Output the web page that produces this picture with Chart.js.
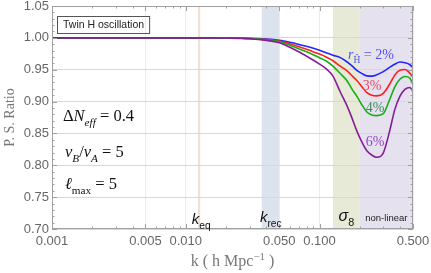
<!DOCTYPE html>
<html>
<head>
<meta charset="utf-8">
<script src="https://cdn.jsdelivr.net/npm/chart.js@4.4.1/dist/chart.umd.min.js"></script>
<style>
  html, body { margin: 0; padding: 0; background: #fff; }
  #wrap { width: 431px; height: 273px; }
</style>
</head>
<body>
<div id="wrap"><canvas id="psChart"></canvas></div>
<script>
// k in h/Mpc, ratio of power spectra for each r_H
const kValues = [0.001, 0.002, 0.005, 0.01, 0.015, 0.02, 0.03, 0.04, 0.05, 0.06, 0.071, 0.085, 0.1, 0.113, 0.126,
  0.143, 0.16, 0.175, 0.19, 0.208, 0.226, 0.246, 0.268, 0.3, 0.336, 0.365, 0.399, 0.435, 0.474, 0.5];

const ratio2 = [1, 1, 1, 1, 1, 0.9998, 0.9992, 0.998, 0.9961, 0.993, 0.9894, 0.9852, 0.9806, 0.9764, 0.9727,
  0.969, 0.9625, 0.956, 0.949, 0.9438, 0.9403, 0.940, 0.942, 0.947, 0.954, 0.9586, 0.9622, 0.961, 0.9578, 0.953];
const ratio3 = [1, 1, 1, 1, 1, 0.9998, 0.999, 0.9975, 0.9952, 0.9908, 0.9858, 0.980, 0.9745, 0.9695, 0.964,
  0.9555, 0.9484, 0.9406, 0.933, 0.923, 0.914, 0.910, 0.909, 0.913, 0.928, 0.9414, 0.9492, 0.9503, 0.9445, 0.938];
const ratio4 = [1, 1, 1, 1, 1, 0.9998, 0.9989, 0.997, 0.9942, 0.9884, 0.9823, 0.9758, 0.9688, 0.9633, 0.9555,
  0.944, 0.933, 0.9195, 0.9086, 0.8945, 0.8836, 0.879, 0.878, 0.881, 0.904, 0.9227, 0.935, 0.9394, 0.9367, 0.927];
const ratio6 = [1, 1, 1, 1, 1, 0.9997, 0.9986, 0.996, 0.9922, 0.9852, 0.9773, 0.968, 0.9589, 0.9508, 0.940,
  0.915, 0.894, 0.874, 0.854, 0.836, 0.8227, 0.816, 0.8125, 0.8195, 0.8555, 0.887, 0.908, 0.919, 0.922, 0.9156];

const seriesNames = ["2%", "3%", "4%", "6%"];

// shaded scales: k_eq (line), k_rec, sigma_8, non-linear
const bandLow = [0.0126, 0.037, 0.126, 0.20];
const bandHigh = [0.0126, 0.0505, 0.20, 0.5];

const xTicks = [0.001, 0.005, 0.01, 0.05, 0.1, 0.5];
const yTicks = [0.70, 0.75, 0.80, 0.85, 0.90, 0.95, 1.00, 1.05];

function pts(ys) {
  return kValues.map(function (k, i) { return { x: k, y: ys[i] }; });
}

function richWidth(ctx, parts, size, family) {
  var w = 0;
  parts.forEach(function (p) {
    var s = (p.sub || p.sup) ? size * 0.68 : size;
    ctx.font = (p.it ? "italic " : "") + s + "px " + family;
    w += ctx.measureText(p.t).width;
  });
  return w;
}

function drawRich(ctx, x, y, parts, size, family, color, center) {
  var cx = center ? x - richWidth(ctx, parts, size, family) / 2 : x;
  ctx.fillStyle = color;
  ctx.textAlign = "left";
  ctx.textBaseline = "alphabetic";
  parts.forEach(function (p) {
    var s = (p.sub || p.sup) ? size * 0.68 : size;
    ctx.font = (p.it ? "italic " : "") + s + "px " + family;
    var dy = p.sub ? size * 0.3 : (p.sup ? -size * 0.38 : 0);
    ctx.fillText(p.t, cx, y + dy);
    cx += ctx.measureText(p.t).width;
  });
}

const bandsPlugin = {
  id: "bands",
  beforeDraw: function (chart) {
    var ctx = chart.ctx, ca = chart.chartArea, x = chart.scales.x;
    var fills = ["#eedfd4", "#dde3ed", "#e6ead6", "#e5e1ee"];
    ctx.save();
    for (var i = 0; i < bandLow.length; i++) {
      var a = x.getPixelForValue(bandLow[i]);
      var b = x.getPixelForValue(bandHigh[i]);
      ctx.fillStyle = fills[i];
      if (b - a < 1) ctx.fillRect(a - 1, ca.top, 2, ca.bottom - ca.top);
      else ctx.fillRect(a, ca.top, b - a, ca.bottom - ca.top);
    }
    ctx.restore();
  },
  afterDraw: function (chart) {
    var ctx = chart.ctx, ca = chart.chartArea, x = chart.scales.x, y = chart.scales.y;
    ctx.save();

    // frame + inside ticks
    ctx.strokeStyle = "#a0a0a0";
    ctx.lineWidth = 1;
    ctx.strokeRect(Math.round(ca.left) + 0.5, Math.round(ca.top) + 0.5,
      Math.round(ca.right - ca.left) - 1, Math.round(ca.bottom - ca.top) - 1);
    ctx.beginPath();
    for (var v = 70; v <= 105; v++) {
      var py = Math.round(y.getPixelForValue(v / 100)) + 0.5;
      var len = (v % 5 === 0) ? 5 : 2.5;
      ctx.moveTo(ca.left, py); ctx.lineTo(ca.left + len, py);
      ctx.moveTo(ca.right, py); ctx.lineTo(ca.right - len, py);
    }
    [0.001, 0.01, 0.1].forEach(function (dec) {
      for (var m = 1; m <= 9; m++) {
        var kv = m * dec;
        if (kv > 0.5001) break;
        var px = Math.round(x.getPixelForValue(kv)) + 0.5;
        var l = xTicks.some(function (t) { return Math.abs(t - kv) < 1e-9; }) ? 5 : 2.5;
        ctx.moveTo(px, ca.bottom); ctx.lineTo(px, ca.bottom - l);
        ctx.moveTo(px, ca.top); ctx.lineTo(px, ca.top + l);
      }
    });
    ctx.stroke();

    // title box
    ctx.font = "10.5px 'Liberation Sans'";
    var tw = ctx.measureText("Twin H oscillation").width;
    ctx.strokeStyle = "#555";
    ctx.strokeRect(ca.left + 5.5, ca.top + 10.5, tw + 11, 17);
    ctx.fillStyle = "#222";
    ctx.textBaseline = "middle";
    ctx.fillText("Twin H oscillation", ca.left + 11, ca.top + 19.5);

    var serif = "'Liberation Serif'";
    drawRich(ctx, ca.left + 11, 121, [
      { t: "\u0394" }, { t: "N", it: true }, { t: "eff", it: true, sub: true }, { t: " = 0.4" }
    ], 16.5, serif, "#111");
    drawRich(ctx, ca.left + 13, 157, [
      { t: "v", it: true }, { t: "B", it: true, sub: true }, { t: "/" },
      { t: "v", it: true }, { t: "A", it: true, sub: true }, { t: " = 5" }
    ], 16.5, serif, "#111");
    drawRich(ctx, ca.left + 13, 189, [
      { t: "\u2113", it: true }, { t: "max", sub: true }, { t: " = 5" }
    ], 16.5, serif, "#111");

    // band labels
    var sans = "'Liberation Sans'";
    drawRich(ctx, x.getPixelForValue(bandLow[0]) + 2, 224, [
      { t: "k", it: true }, { t: "eq", sub: true }
    ], 15, sans, "#111", true);
    drawRich(ctx, (x.getPixelForValue(bandLow[1]) + x.getPixelForValue(bandHigh[1])) / 2, 222, [
      { t: "k", it: true }, { t: "rec", sub: true }
    ], 15, sans, "#111", true);
    drawRich(ctx, (x.getPixelForValue(bandLow[2]) + x.getPixelForValue(bandHigh[2])) / 2, 221, [
      { t: "\u03c3", it: true }, { t: "8", sub: true }
    ], 16, sans, "#111", true);
    drawRich(ctx, (x.getPixelForValue(bandLow[3]) + x.getPixelForValue(bandHigh[3])) / 2, 221, [
      { t: "non-linear" }
    ], 9.5, sans, "#222", true);

    // curve labels
    drawRich(ctx, 348, 59, [
      { t: "r", it: true }, { t: "\u0124", sub: true }, { t: " = " + seriesNames[0] }
    ], 14, serif, "#5252ee");
    drawRich(ctx, 372, 90, [{ t: seriesNames[1] }], 14, serif, "#e84a68", true);
    drawRich(ctx, 375, 112, [{ t: seriesNames[2] }], 14, serif, "#3d8d5d", true);
    drawRich(ctx, 375, 146, [{ t: seriesNames[3] }], 14, serif, "#9646c4", true);

    // x axis title
    drawRich(ctx, (ca.left + ca.right) / 2, 266, [
      { t: "k ( h Mpc" }, { t: "\u22121", sup: true }, { t: " )" }
    ], 16, serif, "#777", true);

    ctx.restore();
  }
};

const ctx = document.getElementById("psChart");
const psChart = new Chart(ctx, {
  type: "line",
  data: {
    datasets: [
      { label: seriesNames[0], data: pts(ratio2), borderColor: "#2424ff", order: 3 },
      { label: seriesNames[1], data: pts(ratio3), borderColor: "#ff1e1e", order: 2 },
      { label: seriesNames[2], data: pts(ratio4), borderColor: "#17ad17", order: 1 },
      { label: seriesNames[3], data: pts(ratio6), borderColor: "#861d98", order: 0 },
    ],
  },
  options: {
    responsive: true,
    maintainAspectRatio: false,
    animation: false,
    layout: { padding: { top: 6, right: 18, left: 0, bottom: 0 } },
    elements: {
      point: { radius: 0 },
      line: { borderWidth: 1.6, cubicInterpolationMode: "monotone", fill: false },
    },
    plugins: {
      legend: { display: false },
      tooltip: { enabled: false },
    },
    scales: {
      x: {
        type: "logarithmic",
        min: 0.001,
        max: 0.5,
        afterBuildTicks: function (axis) {
          axis.ticks = xTicks.map(function (v) { return { value: v }; });
        },
        afterFit: function (scale) {
          scale.height = 44;
          scale.paddingLeft = 0;
          scale.paddingRight = 0;
        },
        grid: { color: "#ececec", drawTicks: false },
        border: { display: false },
        ticks: {
          autoSkip: false,
          maxRotation: 0,
          padding: 5,
          color: "#666",
          font: { family: "'Liberation Sans'", size: 13 },
          callback: function (v) { return Number(v).toFixed(3); },
        },
      },
      y: {
        min: 0.70,
        max: 1.05,
        afterBuildTicks: function (axis) {
          axis.ticks = yTicks.map(function (v) { return { value: v }; });
        },
        afterFit: function (scale) {
          scale.width = 52;
          scale.paddingTop = 0;
          scale.paddingBottom = 0;
        },
        grid: { color: "#d8d8d8", drawTicks: false },
        border: { display: false },
        ticks: {
          padding: 3,
          color: "#666",
          font: { family: "'Liberation Sans'", size: 13 },
          callback: function (v) { return Number(v).toFixed(2); },
        },
        title: {
          display: true,
          text: "P. S. Ratio",
          color: "#777",
          padding: { top: 2, bottom: 0 },
          font: { family: "'Liberation Serif'", size: 14 },
        },
      },
    },
  },
  plugins: [bandsPlugin],
});
</script>
</body>
</html>
